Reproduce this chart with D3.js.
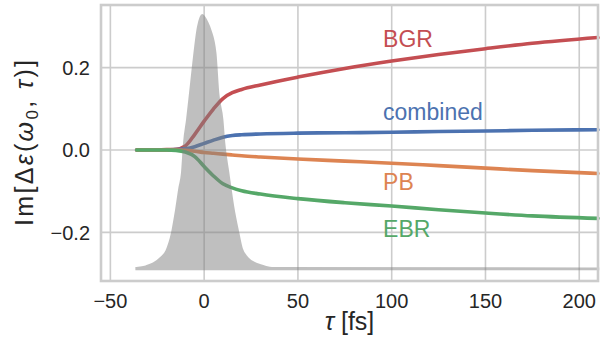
<!DOCTYPE html>
<html>
<head>
<meta charset="utf-8">
<script src="https://cdn.jsdelivr.net/npm/d3@7"></script>
<style>
  body { margin: 0; background: #fff; }
  text { font-family: "Liberation Sans", Arial, sans-serif; fill: #262626; }
</style>
</head>
<body>
<script>
// delay axis (fs) for the response curves
var tau = [-36, -30, -20, -15, -10, -5, 0, 5, 10, 15, 20, 30, 50, 75, 100, 125, 150, 175, 210];

var bgr      = [0, 0, 0.001, 0.002, 0.010, 0.038, 0.070, 0.100, 0.125, 0.139, 0.147, 0.158, 0.177, 0.198, 0.216, 0.232, 0.246, 0.259, 0.273];
var combined = [0, 0, 0, 0.001, 0.003, 0.008, 0.016, 0.024, 0.031, 0.035, 0.037, 0.039, 0.041, 0.042, 0.043, 0.045, 0.046, 0.048, 0.049];
var pb       = [0, 0, 0, 0, -0.001, -0.003, -0.006, -0.008, -0.010, -0.012, -0.014, -0.017, -0.022, -0.027, -0.032, -0.038, -0.044, -0.050, -0.057];
var ebr      = [0, 0, 0, -0.001, -0.005, -0.016, -0.040, -0.063, -0.082, -0.092, -0.099, -0.107, -0.118, -0.128, -0.136, -0.145, -0.153, -0.160, -0.166];

// pulse envelope, drawn on the same axes
var pulseTau = [-36, -31, -27, -23, -20, -17, -15, -13, -11.7, -10.6, -9, -7.4, -5.9, -3.2, -1, 0, 1.5, 3.2, 5.9, 7.4, 9.6, 10.6, 12.8, 15.4, 18.1, 20, 23, 28, 32, 37, 210];
var pulseVal = [-0.287, -0.283, -0.276, -0.262, -0.245, -0.201, -0.150, -0.090, -0.056, 0.017, 0.073, 0.138, 0.201, 0.298, 0.327, 0.322, 0.310, 0.291, 0.235, 0.138, 0.073, 0.017, -0.056, -0.138, -0.201, -0.240, -0.262, -0.277, -0.283, -0.287, -0.288];
var pulseBase = -0.289;

var series = [
  {name: "BGR", values: bgr, color: "#C44E52", ly: 47},
  {name: "combined", values: combined, color: "#4C72B0", ly: 120},
  {name: "PB", values: pb, color: "#DD8452", ly: 190},
  {name: "EBR", values: ebr, color: "#55A868", ly: 237}
];

var xTicks = [-50, 0, 50, 100, 150, 200];
var yTicks = [-0.2, 0.0, 0.2];

var W = 600, H = 337;
var margin = {top: 5, right: 2, bottom: 56, left: 101};
var width = W - margin.left - margin.right,
    height = H - margin.top - margin.bottom;

var svg = d3.select("body").append("svg")
    .attr("width", W)
    .attr("height", H);

var g = svg.append("g")
    .attr("transform", "translate(" + margin.left + "," + margin.top + ")");

var x = d3.scaleLinear().domain([-55, 210]).range([0, width]);
var y = d3.scaleLinear().domain([-0.318, 0.352]).range([height, 0]);

var fmtMinus = function(s) { return s.replace("-", "\u2212"); };

// grid
g.selectAll(".gx").data(xTicks).enter().append("line")
    .attr("x1", function(d) { return x(d); })
    .attr("x2", function(d) { return x(d); })
    .attr("y1", 0).attr("y2", height)
    .attr("stroke", "#cccccc").attr("stroke-width", 1.6);

g.selectAll(".gy").data(yTicks).enter().append("line")
    .attr("x1", 0).attr("x2", width)
    .attr("y1", function(d) { return y(d); })
    .attr("y2", function(d) { return y(d); })
    .attr("stroke", "#cccccc").attr("stroke-width", 1.6);

// curves
var line = d3.line()
    .x(function(d) { return x(d[0]); })
    .y(function(d) { return y(d[1]); })
    .curve(d3.curveMonotoneX);

series.forEach(function(s) {
  g.append("path")
    .datum(tau.map(function(t, i) { return [t, s.values[i]]; }))
    .attr("d", line)
    .attr("fill", "none")
    .attr("stroke", s.color)
    .attr("stroke-width", 3.6)
    .attr("stroke-linecap", "round");
});

// pulse on top, half transparent
var pulseData = pulseTau.map(function(t, i) { return [t, pulseVal[i]]; });
var area = d3.area()
    .x(function(d) { return x(d[0]); })
    .y0(y(pulseBase))
    .y1(function(d) { return y(d[1]); })
    .curve(d3.curveMonotoneX);

var pg = g.append("g").attr("opacity", 0.5);
pg.append("path")
    .datum(pulseData)
    .attr("d", area)
    .attr("fill", "#808080")
    .attr("stroke", "#808080")
    .attr("stroke-width", 2.5);

// curve labels
series.forEach(function(s) {
  g.append("text")
    .attr("x", x(95.4))
    .attr("y", s.ly - margin.top)
    .style("font-size", "23px")
    .style("fill", s.color)
    .text(s.name);
});

// frame
g.append("rect")
    .attr("x", 0).attr("y", 0)
    .attr("width", width).attr("height", height)
    .attr("fill", "none")
    .attr("stroke", "#cccccc")
    .attr("stroke-width", 2.6);

// tick labels
g.selectAll(".xt").data(xTicks).enter().append("text")
    .attr("x", function(d) { return x(d); })
    .attr("y", height + 27)
    .attr("text-anchor", "middle")
    .style("font-size", "20px")
    .text(function(d) { return fmtMinus(String(d)); });

g.selectAll(".yt").data(yTicks).enter().append("text")
    .attr("x", -11)
    .attr("y", function(d) { return y(d); })
    .attr("dy", "0.36em")
    .attr("text-anchor", "end")
    .style("font-size", "20px")
    .text(function(d) { return fmtMinus(d.toFixed(1)); });

// axis labels
var xl = svg.append("text")
    .attr("x", margin.left + width / 2)
    .attr("y", 330)
    .attr("text-anchor", "middle")
    .style("font-size", "25px");
xl.append("tspan").style("font-style", "italic").text("\u03c4");
xl.append("tspan").text(" [fs]");

var yl = svg.append("text")
    .attr("transform", "translate(33," + (margin.top + height / 2) + ") rotate(-90)")
    .attr("text-anchor", "middle")
    .attr("textLength", 166)
    .attr("lengthAdjust", "spacing")
    .style("font-size", "25px");
yl.append("tspan").text("Im[\u0394");
yl.append("tspan").style("font-style", "italic").text("\u03b5");
yl.append("tspan").text("(");
yl.append("tspan").style("font-style", "italic").text("\u03c9");
yl.append("tspan").attr("dy", 5).style("font-size", "17px").text("0");
yl.append("tspan").attr("dy", -5).text(", ");
yl.append("tspan").style("font-style", "italic").text("\u03c4");
yl.append("tspan").text(")]");
</script>
</body>
</html>
